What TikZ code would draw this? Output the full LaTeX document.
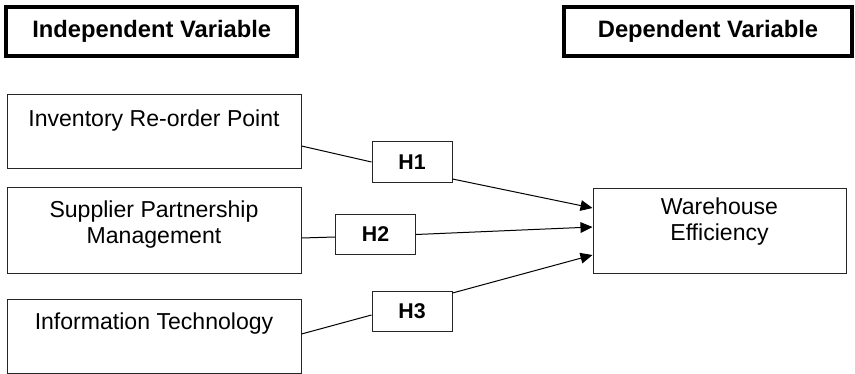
\documentclass[tikz,border=0pt]{standalone}
\usepackage{fontspec}
\setmainfont{Liberation Sans}
\usetikzlibrary{arrows.meta,calc}

\begin{document}
\begin{tikzpicture}[x=0.75pt,y=-0.75pt,
    varbox/.style={draw=black,line width=3pt,minimum width=#1,minimum height=37.1pt,
        inner sep=0pt,font=\fontsize{17.8}{20}\selectfont\bfseries},
    itembox/.style={draw=black!85,line width=0.75pt,minimum width=#1,inner sep=0pt,
        align=center,font=\fontsize{17.3}{19.5}\selectfont},
    itembox/.default=220.5pt,
    hbox/.style={draw=black!85,line width=0.75pt,minimum width=60pt,minimum height=30.4pt,
        inner sep=0pt,font=\fontsize{16}{19}\selectfont\bfseries},
    link/.style={line width=0.75pt},
    arrow/.style={link,-{Triangle[length=9pt,width=8pt]}}]

    \useasboundingbox (0,0) rectangle (855,374);

    % Заголовки
    \node[varbox=217.9pt] (indep) at (151.75,31.25) {Independent Variable};
    \node[varbox=216pt] (dep) at (708,31.25) {Dependent Variable};

    % Независимые переменные
    \node[itembox,text height=23.8pt,text depth=31pt] (inv) at (154,131.5) {Inventory Re-order Point};
    \node[itembox,text height=42pt,text depth=22.5pt] (sup) at (154,230) {Supplier Partnership\\Management};
    \node[itembox,text height=22.7pt,text depth=32.8pt] (it) at (154,336) {Information Technology};

    % Зависимая переменная
    \node[itembox=189.75pt,text height=39pt,text depth=24.75pt] (we) at (719.5,230.5) {Warehouse\\Efficiency};

    % Гипотезы
    \node[hbox] (h1) at (412,162) {H1};
    \node[hbox] (h2) at (375.5,234.5) {H2};
    \node[hbox] (h3) at (412,311.5) {H3};

    % Связи
    \foreach \src/\dy/\h/\hin/\hout/\dst in {
        inv/14.5/h1/0/17/-22.5,
        sup/8/h2/2.5/0/-3.5,
        it/-2/h3/3.5/-18.5/24.5}
    {
        \draw[link] ($(\src.east)+(0,\dy)$) -- ($(\h.west)+(0,\hin)$);
        \draw[arrow] ($(\h.east)+(0,\hout)$) -- ($(we.west)+(0,\dst)$);
    }
\end{tikzpicture}
\end{document}
